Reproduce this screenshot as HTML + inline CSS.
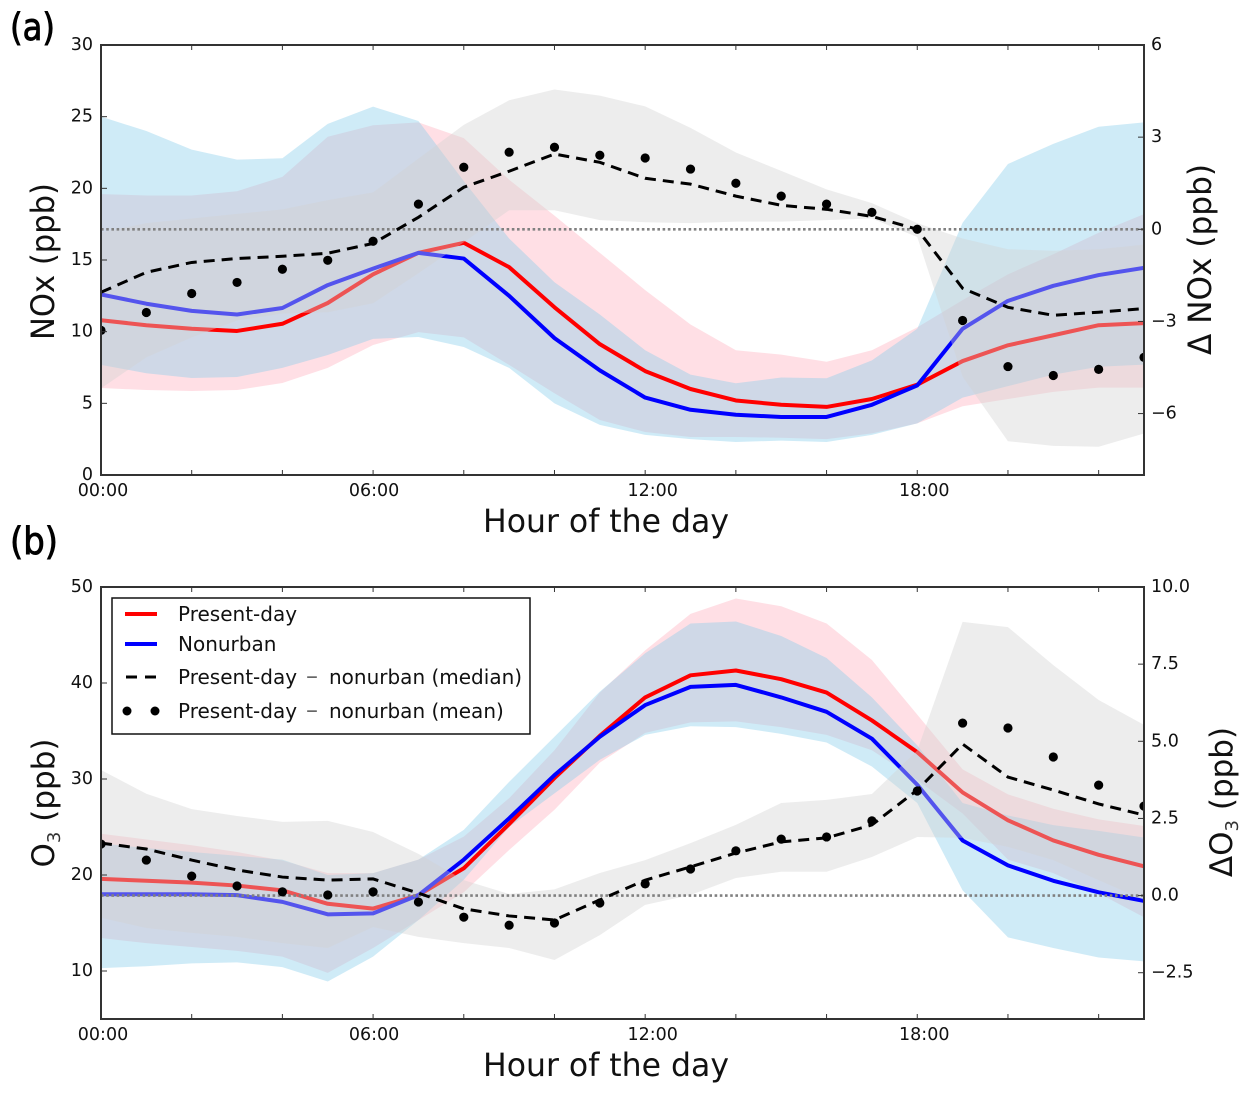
<!DOCTYPE html>
<html lang="en">
<head>
<meta charset="utf-8">
<title>Diurnal NOx and O3</title>
<style>
html,body{margin:0;padding:0;background:#fff;width:1250px;height:1096px;overflow:hidden}
svg{display:block}
text{font-family:"DejaVu Sans","Liberation Sans",sans-serif;fill:#111}
.tick{font-size:17.5px}
.title{font-size:32px}
.ylab{font-size:32px}
.panel{font-size:37px;stroke:#000;stroke-width:0.9px;fill:#000}
.leg{font-size:20px}
</style>
</head>
<body>
<svg id="chart" xmlns="http://www.w3.org/2000/svg" width="1250" height="1096" viewBox="0 0 1250 1096">
  <text class="panel" x="10" y="40" textLength="45" lengthAdjust="spacingAndGlyphs">(a)</text>
  <text class="panel" x="10" y="554" textLength="48" lengthAdjust="spacingAndGlyphs">(b)</text>
  <text class="title" x="483" y="532" textLength="246" lengthAdjust="spacingAndGlyphs">Hour of the day</text>
  <text class="title" x="483" y="1076" textLength="246" lengthAdjust="spacingAndGlyphs">Hour of the day</text>
  <text class="ylab" transform="translate(54 340) rotate(-90)" textLength="157" lengthAdjust="spacingAndGlyphs">NOx (ppb)</text>
  <text class="ylab" transform="translate(1211 355) rotate(-90)" textLength="191" lengthAdjust="spacingAndGlyphs">Δ NOx (ppb)</text>
  <text class="ylab" text-anchor="middle" transform="translate(54 803) rotate(-90)" font-size="31" style="font-size:31px">O<tspan fill="#333" style="font-size:18px" dy="6">3</tspan><tspan dy="-6"> (ppb)</tspan></text>
  <text class="ylab" text-anchor="middle" transform="translate(1232 802) rotate(-90)" style="font-size:31px">ΔO<tspan fill="#333" style="font-size:18px" dy="6">3</tspan><tspan dy="-6"> (ppb)</tspan></text>
</svg>
<script>
// Shared categories and tick labels
const hours = [0,1,2,3,4,5,6,7,8,9,10,11,12,13,14,15,16,17,18,19,20,21,22,23];
const xTickHours = [0,2,4,6,8,10,12,14,16,18,20,22];
const xLabelHours = [0,6,12,18];
const xLabels = ['00:00','06:00','12:00','18:00'];

// Panel (a) NOx
const noxLeftTicks = [0,5,10,15,20,25,30];
const noxRightTicks = [-6,-3,0,3,6];
const noxRightLabels = ['−6','−3','0','3','6'];
const noxRed = [10.8,10.45,10.2,10.05,10.55,12,14,15.5,16.2,14.5,11.7,9.13,7.25,6,5.2,4.9,4.75,5.3,6.3,7.95,9.05,9.75,10.45,10.6];
const noxBlue = [12.6,11.95,11.45,11.2,11.65,13.25,14.4,15.5,15.1,12.5,9.55,7.3,5.4,4.55,4.2,4.05,4.05,4.9,6.25,10.2,12.15,13.2,13.95,14.45];
const noxBlueUpper = [25,24,22.7,22,22.1,24.5,25.7,24.7,20.5,16.5,13.45,11.2,8.7,7,6.4,6.8,6.75,8,10.2,17.6,21.7,23.1,24.3,24.6];
const noxBlueLower = [7.68,7.1,6.77,6.84,7.47,8.37,9.5,9.63,8.93,7.47,5,3.5,2.8,2.5,2.3,2.4,2.3,2.8,3.6,5.4,6.2,7,7.55,7.7];
const noxRedUpper = [19.6,19.5,19.5,19.8,20.8,23.6,24.4,24.6,23.5,20.6,18.1,15.5,12.9,10.5,8.7,8.4,7.9,8.7,10.3,12.2,14,15.4,16.9,18.2];
const noxRedLower = [6.07,5.93,5.86,5.93,6.42,7.47,9.07,9.97,9.6,7.68,5.7,3.84,3,2.65,2.65,2.6,2.5,2.9,3.6,4.8,5.3,5.8,6.1,6.1];
const noxDiffUpper = [-0.1,0.2,0.35,0.5,0.65,0.95,1.2,2.3,3.4,4.2,4.55,4.35,4,3.3,2.5,1.9,1.3,0.85,0.2,-0.3,-0.65,-0.7,-0.65,-0.5];
const noxDiffLower = [-5.18,-4.17,-3.52,-2.97,-2.74,-2.7,-2.41,-1.43,-0.42,0.62,0.62,0.3,0.23,0.2,0.25,0.25,0.3,0.35,-0.25,-4.8,-6.9,-7.05,-7.08,-6.65];
const noxMedian = [-2.05,-1.4,-1.08,-0.95,-0.88,-0.78,-0.46,0.39,1.37,1.89,2.45,2.18,1.66,1.47,1.08,0.78,0.65,0.42,0,-1.92,-2.54,-2.8,-2.7,-2.58];
const noxMean = [-3.29,-2.71,-2.09,-1.73,-1.3,-1.01,-0.39,0.82,2.02,2.51,2.67,2.41,2.32,1.96,1.5,1.08,0.82,0.55,0,-2.97,-4.47,-4.76,-4.56,-4.17];

// Panel (b) O3
const o3LeftTicks = [10,20,30,40,50];
const o3RightTicks = [-2.5,0,2.5,5,7.5,10];
const o3RightLabels = ['−2.5','0.0','2.5','5.0','7.5','10.0'];
const o3Red = [19.6,19.4,19.2,18.9,18.4,17,16.5,17.9,20.7,25.3,30.1,34.5,38.5,40.8,41.3,40.4,39,36.1,32.8,28.6,25.7,23.6,22.1,20.9];
const o3Blue = [18,18,18,17.9,17.2,15.9,16,17.9,21.6,25.9,30.4,34.4,37.7,39.6,39.8,38.5,37,34.2,29.4,23.6,21,19.4,18.2,17.3];
const o3BlueUpper = [23.3,22.8,22.4,22,21.6,20,20.2,21.6,24.7,29.7,34.4,39.1,43.1,46.2,46.4,44.9,42.6,38.5,33.5,27.5,26.2,25.2,24.6,23.9];
const o3BlueLower = [10.3,10.5,10.8,10.9,10.4,8.9,11.5,15.3,19.5,25,28.5,32,34.6,35.5,35.4,34.7,33.8,31.3,27.5,18.4,13.5,12.4,11.4,11];
const o3RedUpper = [24.3,23.7,23.1,22.4,21.5,20.2,20.2,21.6,24,28,33,39,43.4,47.2,48.8,48,46.2,42.4,36.7,31,28.4,26.9,25.8,25.1];
const o3RedLower = [13.44,12.9,12.5,12.1,11.5,9.8,12.4,15.3,18.2,22.6,26.8,31.7,34.8,35.9,36,35.4,34.6,33,29.9,26.4,21.6,20.2,18.1,15.6];
const o3DiffUpper = [4.07,3.3,2.8,2.58,2.39,2.42,2.06,1.35,0.5,0.05,0.2,0.73,1.15,1.7,2.29,3,3.1,3.29,4.7,8.87,8.7,7.47,6.34,5.53];
const o3DiffLower = [-0.72,-1.05,-1.21,-1.34,-1.54,-1.7,-1.02,-1.34,-1.54,-1.7,-2.09,-1.28,-0.3,0.02,0.57,0.77,0.77,1.25,1.9,1.87,1.58,1.15,0.5,-0.14];
const o3Median = [1.7,1.51,1.15,0.83,0.6,0.5,0.54,0.08,-0.43,-0.66,-0.79,-0.14,0.5,0.93,1.38,1.74,1.87,2.29,3.42,4.91,3.84,3.42,2.97,2.61];
const o3Mean = [1.67,1.15,0.63,0.31,0.12,0.02,0.12,-0.21,-0.7,-0.96,-0.89,-0.24,0.38,0.86,1.45,1.83,1.9,2.42,3.39,5.59,5.43,4.49,3.58,2.9];

// Legend
const legendLabels = ['Present-day','Nonurban'];
const legendColors = ['#ff0000','#0000ff'];

const svg = document.getElementById('chart');
const NS = 'http://www.w3.org/2000/svg';

function mk(tag, attrs, parent) {
  const n = document.createElementNS(NS, tag);
  for (const k in attrs) n.setAttribute(k, attrs[k]);
  (parent || svg).appendChild(n);
  return n;
}

function linePath(xs, ys, sx, sy) {
  return xs.map((x, i) => (i ? 'L' : 'M') + sx(x).toFixed(2) + ' ' + sy(ys[i]).toFixed(2)).join(' ');
}

function bandPath(xs, up, lo, sx, sy) {
  const top = xs.map((x, i) => sx(x).toFixed(2) + ' ' + sy(up[i]).toFixed(2));
  const bot = xs.map((x, i) => sx(x).toFixed(2) + ' ' + sy(lo[i]).toFixed(2)).reverse();
  return 'M' + top.join(' L') + ' L' + bot.join(' L') + ' Z';
}

function labelNudge(h) {
  if (h === 0) return 2;
  if (h === 6) return 1;
  if (h === 12) return 7.5;
  return 7;
}

function drawPanel(p) {
  const L = 101, R = 1144, T = p.top, B = p.bottom;
  const sx = h => L + (h / 23) * (R - L);
  const syL = v => B - (v - p.leftMin) / (p.leftMax - p.leftMin) * (B - T);
  const syR = v => B - (v - p.rightMin) / (p.rightMax - p.rightMin) * (B - T);

  const clip = mk('clipPath', {id: 'clip-' + p.key});
  mk('rect', {x: L, y: T, width: R - L, height: B - T}, clip);

  const g = mk('g', {'clip-path': 'url(#clip-' + p.key + ')'});
  
  

  const redBand = mk('path', {d: bandPath(hours, p.redUpper, p.redLower, sx, syL), fill: '#ffc0cb', 'fill-opacity': 0.5}, g);
  
  

  const blueBand = mk('path', {d: bandPath(hours, p.blueUpper, p.blueLower, sx, syL), fill: '#87ceeb', 'fill-opacity': 0.4}, g);
  
  

  const redLine = mk('path', {d: linePath(hours, p.red, sx, syL), fill: 'none', stroke: '#ff0000', 'stroke-width': 4, 'stroke-linejoin': 'round'}, g);
  
  

  const blueLine = mk('path', {d: linePath(hours, p.blue, sx, syL), fill: 'none', stroke: '#0000ff', 'stroke-width': 4, 'stroke-linejoin': 'round'}, g);
  
  

  const diffBand = mk('path', {d: bandPath(hours, p.diffUpper, p.diffLower, sx, syR), fill: '#d3d3d3', 'fill-opacity': 0.4}, g);
  
  

  const zero = mk('line', {x1: L, x2: R, y1: syR(0), y2: syR(0), stroke: '#808080', 'stroke-width': 2.6, 'stroke-dasharray': '2.6 2.6'}, g);
  
  

  const med = mk('path', {d: linePath(hours, p.median, sx, syR), fill: 'none', stroke: '#000', 'stroke-width': 3, 'stroke-dasharray': '11 7'}, g);
  
  

  p.mean.forEach((v, i) => {
    const dot = mk('circle', {cx: sx(hours[i]), cy: syR(v), r: 4.6, fill: '#000'}, g);
    
    
  });

  const frame = mk('rect', {x: L, y: T, width: R - L, height: B - T, fill: 'none', stroke: '#333', 'stroke-width': 2});
  
  

  xTickHours.forEach(h => {
    const t1 = mk('line', {x1: sx(h), x2: sx(h), y1: B, y2: B - 5, stroke: '#333', 'stroke-width': 1});
    
    
    const t2 = mk('line', {x1: sx(h), x2: sx(h), y1: T, y2: T + 5, stroke: '#333', 'stroke-width': 1});
    
    
  });

  xLabelHours.forEach((h, i) => {
    const t = mk('text', {class: 'tick', x: sx(h) + labelNudge(h), y: B + 21, 'text-anchor': 'middle'});
    
    
    t.textContent = xLabels[i];
  });

  p.leftTicks.forEach(v => {
    const tk = mk('line', {x1: L, x2: L + 6, y1: syL(v), y2: syL(v), stroke: '#333', 'stroke-width': 1});
    
    
    const t = mk('text', {class: 'tick', x: 93, y: syL(v) + 5, 'text-anchor': 'end'});
    
    
    t.textContent = String(v);
  });

  p.rightTicks.forEach((v, i) => {
    const tk = mk('line', {x1: R, x2: R - 6, y1: syR(v), y2: syR(v), stroke: '#333', 'stroke-width': 1});
    
    
    const t = mk('text', {class: 'tick', x: 1151, y: syR(v) + 5});
    
    
    t.textContent = p.rightLabels[i];
  });
}

drawPanel({key: 'a', top: 45, bottom: 475, leftMin: 0, leftMax: 30, rightMin: -8, rightMax: 6,
  red: noxRed, blue: noxBlue, redUpper: noxRedUpper, redLower: noxRedLower, blueUpper: noxBlueUpper, blueLower: noxBlueLower,
  diffUpper: noxDiffUpper, diffLower: noxDiffLower, median: noxMedian, mean: noxMean,
  leftTicks: noxLeftTicks, rightTicks: noxRightTicks, rightLabels: noxRightLabels});

drawPanel({key: 'b', top: 587, bottom: 1019, leftMin: 5, leftMax: 50, rightMin: -4, rightMax: 10,
  red: o3Red, blue: o3Blue, redUpper: o3RedUpper, redLower: o3RedLower, blueUpper: o3BlueUpper, blueLower: o3BlueLower,
  diffUpper: o3DiffUpper, diffLower: o3DiffLower, median: o3Median, mean: o3Mean,
  leftTicks: o3LeftTicks, rightTicks: o3RightTicks, rightLabels: o3RightLabels});

// Legend
const legend = mk('g', {});



const legendBox = mk('rect', {x: 112, y: 598, width: 418, height: 136, fill: '#fff', stroke: '#111', 'stroke-width': 1.5}, legend);



legendLabels.forEach((label, i) => {
  const yy = 614 + i * 30;
  const sw = mk('line', {x1: 125, x2: 157, y1: yy, y2: yy, stroke: legendColors[i], 'stroke-width': 4}, legend);
  
  
  const t = mk('text', {class: 'leg', x: 178, y: yy + 7}, legend);
  
  
  t.textContent = label;
});

const legendDash = mk('line', {x1: 126, x2: 157, y1: 677, y2: 677, stroke: '#000', 'stroke-width': 3, 'stroke-dasharray': '11 8'}, legend);



const legendDotA = mk('circle', {cx: 127, cy: 711, r: 4.5, fill: '#000'}, legend);


const legendDotB = mk('circle', {cx: 155, cy: 711, r: 4.5, fill: '#000'}, legend);



const legendMed = mk('text', {class: 'leg', x: 178, y: 684}, legend);


legendMed.innerHTML = 'Present-day<tspan x="306" fill="#666" style="font-size:24px">–</tspan><tspan x="329">nonurban (median)</tspan>';

const legendMean = mk('text', {class: 'leg', x: 178, y: 718}, legend);


legendMean.innerHTML = 'Present-day<tspan x="306" fill="#666" style="font-size:24px">–</tspan><tspan x="329">nonurban (mean)</tspan>';
</script>
</body>
</html>
